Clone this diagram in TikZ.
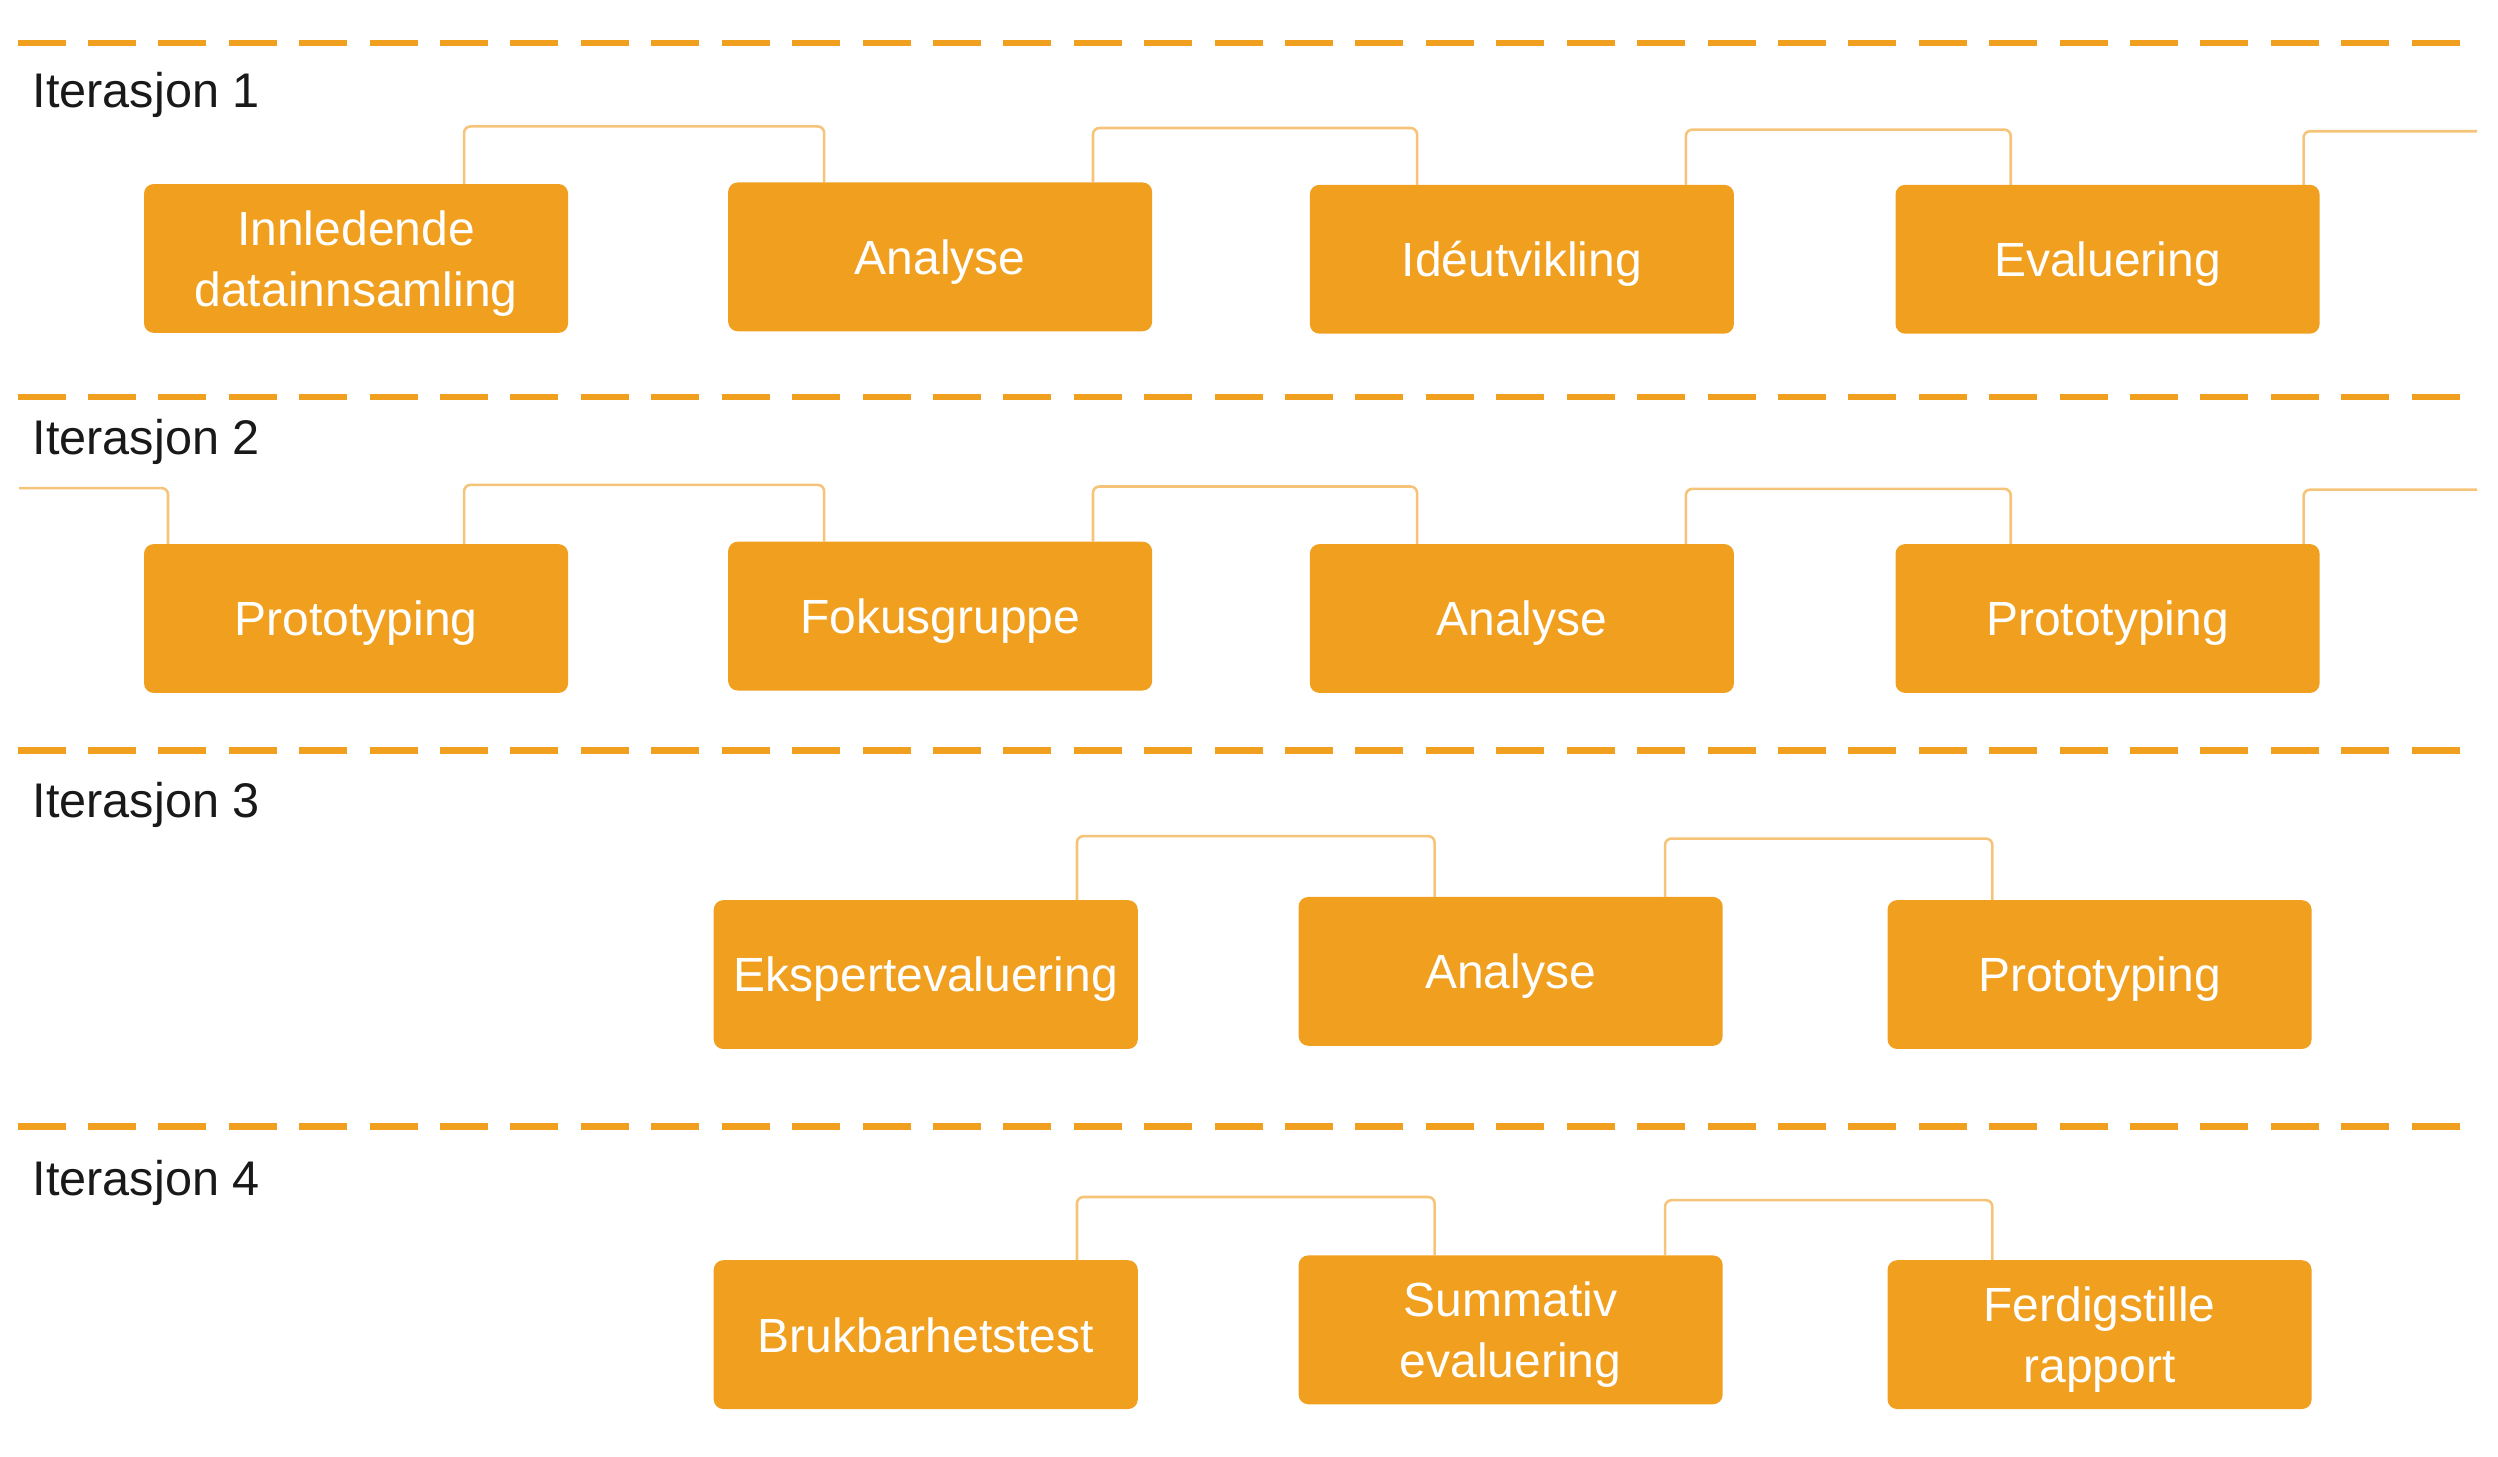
\documentclass[tikz,border=0pt]{standalone}
\usepackage{fontspec}
\setmainfont{Liberation Sans}
\definecolor{orng}{RGB}{240,159,30}
\definecolor{connc}{RGB}{246,196,120}
\definecolor{lbltext}{RGB}{25,25,25}
\begin{document}
\begin{tikzpicture}[x=0.5pt,y=-0.5pt,
  stepbox/.style={fill=orng, rounded corners=3pt, minimum width=132.5pt, minimum height=46.5pt,
    inner sep=0pt, outer sep=0pt, text=white, text depth=0pt, font=\fontsize{15}{19}\selectfont, align=center},
  sepline/.style={draw=orng, line width=2pt, dash pattern=on 15pt off 7pt},
  lbl/.style={anchor=base west, inner sep=0pt, font=\fontsize{15.2}{18}\selectfont, text=lbltext},
  link/.style={draw=connc, line width=0.8pt, rounded corners=2pt}]
\useasboundingbox (0,0) rectangle (1561,910);

% separators
\draw[sepline] (11,27) -- (1548,27);
\draw[sepline] (11,248) -- (1548,248);
\draw[sepline] (11,469) -- (1548,469);
\draw[sepline] (11,704) -- (1548,704);

% labels
\node[lbl] (l1) at (20,67) {Iterasjon 1};
\node[lbl] (l2) at (20,284) {Iterasjon 2};
\node[lbl] (l3) at (20,511) {Iterasjon 3};
\node[lbl] (l4) at (20,747) {Iterasjon 4};

% row 1
\node[stepbox] (a1) at (222.5,161.5) {Innledende\\datainnsamling};
\node[stepbox] (a2) at (587.5,160.5) {Analyse};
\node[stepbox] (a3) at (951,162) {Idéutvikling};
\node[stepbox] (a4) at (1317,162) {Evaluering};
% row 2
\node[stepbox] (b1) at (222.5,386.5) {Prototyping};
\node[stepbox] (b2) at (587.5,385) {Fokusgruppe};
\node[stepbox] (b3) at (951,386.5) {Analyse};
\node[stepbox] (b4) at (1317,386.5) {Prototyping};
% row 3
\node[stepbox] (c1) at (578.5,609) {Ekspertevaluering};
\node[stepbox] (c2) at (944,607) {Analyse};
\node[stepbox] (c3) at (1312,609) {Prototyping};
% row 4
\node[stepbox] (d1) at (578.5,834) {Brukbarhetstest};
\node[stepbox] (d2) at (944,831) {Summativ\\evaluering};
\node[stepbox] (d3) at (1312,834) {Ferdigstille\\rapport};

\coordinate (e1) at (1548,82);
\coordinate (s2) at (12,305);
\coordinate (e2) at (1548,306);

% row 1 connectors
\draw[link] ([shift={(200,0)}]a1.north west) |- ([shift={(60,-35)}]a2.north west) -- ([shift={(60,0)}]a2.north west);
\draw[link] ([shift={(-37,0)}]a2.north east) |- ([shift={(67,-35.5)}]a3.north west) -- ([shift={(67,0)}]a3.north west);
\draw[link] ([shift={(-30,0)}]a3.north east) |- ([shift={(72,-34.5)}]a4.north west) -- ([shift={(72,0)}]a4.north west);
\draw[link] ([shift={(-10,0)}]a4.north east) |- (e1);

% row 2 connectors
\draw[link] (s2) -| ([shift={(15,0)}]b1.north west);
\draw[link] ([shift={(200,0)}]b1.north west) |- ([shift={(60,-35.5)}]b2.north west) -- ([shift={(60,0)}]b2.north west);
\draw[link] ([shift={(-37,0)}]b2.north east) |- ([shift={(67,-36)}]b3.north west) -- ([shift={(67,0)}]b3.north west);
\draw[link] ([shift={(-30,0)}]b3.north east) |- ([shift={(72,-34.5)}]b4.north west) -- ([shift={(72,0)}]b4.north west);
\draw[link] ([shift={(-10,0)}]b4.north east) |- (e2);

% row 3 connectors
\draw[link] ([shift={(-38,0)}]c1.north east) |- ([shift={(85,-38)}]c2.north west) -- ([shift={(85,0)}]c2.north west);
\draw[link] ([shift={(-36,0)}]c2.north east) |- ([shift={(65.5,-38.5)}]c3.north west) -- ([shift={(65.5,0)}]c3.north west);

% row 4 connectors
\draw[link] ([shift={(-38,0)}]d1.north east) |- ([shift={(85,-36.5)}]d2.north west) -- ([shift={(85,0)}]d2.north west);
\draw[link] ([shift={(-36,0)}]d2.north east) |- ([shift={(65.5,-37.5)}]d3.north west) -- ([shift={(65.5,0)}]d3.north west);
\end{tikzpicture}
\end{document}
